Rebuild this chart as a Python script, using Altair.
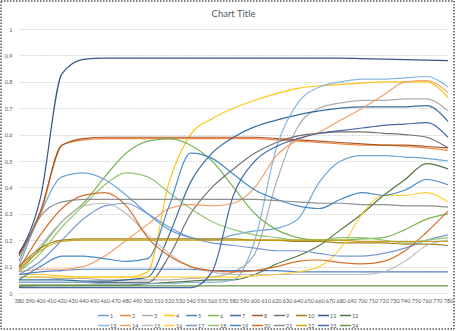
import altair as alt
import pandas as pd

# wavelengths (x) at which values were read
wavelengths = [380, 400, 420, 440, 460, 480, 500, 520, 540, 560, 580,
               600, 620, 640, 660, 680, 700, 720, 740, 760, 780]

# x-axis tick labels
tick_labels = [380, 390, 400, 410, 420, 430, 440, 450, 460, 470, 480, 490,
               500, 510, 520, 530, 540, 550, 560, 570, 580, 590, 600, 610,
               620, 630, 640, 650, 660, 670, 680, 690, 700, 710, 720, 730,
               740, 750, 760, 770, 780]
y_ticks = [0, 0.1, 0.2, 0.3, 0.4, 0.5, 0.6, 0.7, 0.8, 0.9, 1]

series_names = [str(i) for i in range(1, 25)]
colors = ["#5B9BD5", "#ED7D31", "#A5A5A5", "#FFC000", "#4472C4", "#70AD47",
          "#255E91", "#9E480E", "#636363", "#997300", "#264478", "#43682B",
          "#7CAFDD", "#F1975A", "#B7B7B7", "#FFCD33", "#698ED0", "#8CC168",
          "#327DC2", "#D26012", "#848484", "#CC9A00", "#335AA1", "#5A8A39"]

s1 = [0.10, 0.30, 0.44, 0.455, 0.43, 0.37, 0.30, 0.24, 0.21, 0.20, 0.22, 0.235, 0.245, 0.28, 0.42, 0.50, 0.52, 0.52, 0.515, 0.51, 0.50]
s2 = [0.15, 0.30, 0.56, 0.58, 0.585, 0.585, 0.585, 0.585, 0.585, 0.585, 0.585, 0.585, 0.58, 0.575, 0.57, 0.565, 0.56, 0.56, 0.555, 0.55, 0.54]
s3 = [0.06, 0.06, 0.055, 0.055, 0.05, 0.05, 0.05, 0.05, 0.055, 0.06, 0.08, 0.15, 0.42, 0.63, 0.70, 0.72, 0.73, 0.73, 0.735, 0.735, 0.69]
s4 = [0.07, 0.07, 0.065, 0.06, 0.06, 0.06, 0.08, 0.42, 0.60, 0.66, 0.70, 0.73, 0.755, 0.775, 0.785, 0.79, 0.795, 0.80, 0.80, 0.80, 0.74]
s5 = [0.07, 0.08, 0.085, 0.09, 0.09, 0.09, 0.09, 0.09, 0.09, 0.085, 0.085, 0.085, 0.085, 0.08, 0.08, 0.08, 0.08, 0.08, 0.08, 0.08, 0.08]
s6 = [0.08, 0.17, 0.27, 0.34, 0.44, 0.53, 0.575, 0.585, 0.56, 0.50, 0.40, 0.30, 0.24, 0.21, 0.20, 0.20, 0.205, 0.21, 0.24, 0.28, 0.30]
s7 = [0.05, 0.05, 0.05, 0.045, 0.045, 0.05, 0.06, 0.22, 0.42, 0.53, 0.59, 0.63, 0.655, 0.675, 0.69, 0.70, 0.705, 0.705, 0.705, 0.71, 0.65]
s8 = [0.14, 0.31, 0.56, 0.585, 0.59, 0.59, 0.59, 0.59, 0.59, 0.59, 0.59, 0.59, 0.585, 0.58, 0.575, 0.57, 0.565, 0.56, 0.56, 0.555, 0.55]
s9 = [0.04, 0.04, 0.04, 0.04, 0.04, 0.04, 0.04, 0.14, 0.30, 0.40, 0.47, 0.53, 0.57, 0.595, 0.605, 0.61, 0.61, 0.605, 0.60, 0.59, 0.55]
s10 = [0.10, 0.17, 0.20, 0.205, 0.205, 0.205, 0.205, 0.205, 0.205, 0.205, 0.205, 0.20, 0.20, 0.195, 0.195, 0.19, 0.19, 0.19, 0.185, 0.185, 0.18]
s11 = [0.15, 0.36, 0.83, 0.885, 0.89, 0.89, 0.89, 0.89, 0.89, 0.89, 0.89, 0.89, 0.89, 0.89, 0.89, 0.89, 0.888, 0.886, 0.884, 0.882, 0.88]
s12 = [0.03, 0.03, 0.03, 0.03, 0.03, 0.03, 0.035, 0.04, 0.045, 0.05, 0.05, 0.07, 0.11, 0.14, 0.18, 0.24, 0.30, 0.37, 0.43, 0.49, 0.47]
s13 = [0.04, 0.04, 0.04, 0.04, 0.035, 0.035, 0.035, 0.035, 0.04, 0.04, 0.05, 0.20, 0.55, 0.72, 0.78, 0.80, 0.81, 0.81, 0.815, 0.82, 0.78]
s14 = [0.08, 0.09, 0.09, 0.10, 0.14, 0.20, 0.26, 0.32, 0.335, 0.33, 0.34, 0.40, 0.52, 0.58, 0.61, 0.655, 0.70, 0.75, 0.80, 0.805, 0.76]
s15 = [0.08, 0.18, 0.27, 0.33, 0.34, 0.30, 0.22, 0.15, 0.10, 0.08, 0.07, 0.07, 0.07, 0.07, 0.07, 0.07, 0.07, 0.08, 0.12, 0.18, 0.20]
s16 = [0.06, 0.06, 0.06, 0.06, 0.06, 0.06, 0.06, 0.06, 0.06, 0.06, 0.06, 0.065, 0.07, 0.08, 0.10, 0.17, 0.30, 0.37, 0.37, 0.38, 0.345]
s17 = [0.07, 0.12, 0.20, 0.28, 0.33, 0.34, 0.30, 0.25, 0.21, 0.19, 0.18, 0.17, 0.16, 0.16, 0.15, 0.14, 0.14, 0.15, 0.17, 0.20, 0.22]
s18 = [0.08, 0.15, 0.25, 0.33, 0.41, 0.455, 0.44, 0.38, 0.32, 0.27, 0.24, 0.22, 0.21, 0.20, 0.20, 0.21, 0.21, 0.20, 0.19, 0.20, 0.21]
s19 = [0.05, 0.10, 0.14, 0.14, 0.13, 0.12, 0.13, 0.33, 0.53, 0.51, 0.45, 0.39, 0.355, 0.33, 0.32, 0.355, 0.38, 0.37, 0.39, 0.43, 0.41]
s20 = [0.09, 0.22, 0.32, 0.37, 0.38, 0.33, 0.21, 0.14, 0.10, 0.085, 0.08, 0.085, 0.10, 0.12, 0.125, 0.115, 0.11, 0.12, 0.16, 0.23, 0.31]
s21 = [0.12, 0.29, 0.345, 0.355, 0.355, 0.355, 0.355, 0.355, 0.355, 0.355, 0.355, 0.355, 0.35, 0.345, 0.34, 0.34, 0.335, 0.335, 0.33, 0.33, 0.325]
s22 = [0.09, 0.16, 0.195, 0.20, 0.20, 0.20, 0.20, 0.20, 0.20, 0.20, 0.20, 0.20, 0.20, 0.20, 0.20, 0.20, 0.195, 0.195, 0.195, 0.195, 0.195]
s23 = [0.02, 0.02, 0.02, 0.02, 0.02, 0.02, 0.02, 0.02, 0.02, 0.08, 0.37, 0.50, 0.555, 0.585, 0.605, 0.615, 0.625, 0.635, 0.64, 0.645, 0.59]
s24 = [0.025, 0.027, 0.027, 0.027, 0.027, 0.027, 0.027, 0.027, 0.027, 0.027, 0.027, 0.027, 0.027, 0.027, 0.027, 0.027, 0.027, 0.027, 0.027, 0.027, 0.027]

all_series = [s1, s2, s3, s4, s5, s6, s7, s8, s9, s10, s11, s12,
              s13, s14, s15, s16, s17, s18, s19, s20, s21, s22, s23, s24]

rows = []
for name, vals in zip(series_names, all_series):
    for w, v in zip(wavelengths, vals):
        rows.append({"series": name, "wl": w, "v": v})
df = pd.DataFrame(rows)

FONT = "Lato"
TXT = "#595959"

lines = alt.Chart(df).mark_line(strokeWidth=1.2, interpolate="monotone",
                                opacity=0.9).encode(
    x=alt.X("wl:Q",
            scale=alt.Scale(domain=[380, 780], nice=False, zero=False),
            axis=alt.Axis(values=tick_labels, title=None, labelFontSize=5.5,
                          labelColor=TXT, labelFont=FONT, domain=False,
                          ticks=False, grid=False, labelOverlap=False,
                          labelFlush=False, labelPadding=5)),
    y=alt.Y("v:Q",
            scale=alt.Scale(domain=[0, 1], nice=False, zero=True),
            axis=alt.Axis(values=y_ticks, format="~g", title=None,
                          labelFontSize=5.5, labelColor=TXT, labelFont=FONT,
                          grid=True, gridDash=[1, 2], gridColor="#a6a6a6",
                          gridWidth=0.8, domain=False, ticks=False,
                          labelPadding=7)),
    color=alt.Color("series:N", sort=series_names,
                    scale=alt.Scale(domain=series_names, range=colors),
                    legend=alt.Legend(title=None, orient="none", legendX=78,
                                      legendY=280, direction="horizontal",
                                      columns=12, symbolType="stroke",
                                      symbolSize=121, symbolStrokeWidth=1.5,
                                      labelFontSize=5.5, labelColor=TXT,
                                      labelFont=FONT, columnPadding=0,
                                      rowPadding=0, labelOffset=0,
                                      padding=0)),
)

border = alt.Chart(alt.Data(values=[{"a": 1}])).mark_rect(
    fillOpacity=0, stroke="black", strokeDash=[1.5, 1.5], strokeWidth=1
).encode(
    x=alt.value(-18), x2=alt.value(435), y=alt.value(-28), y2=alt.value(300)
)

chart = alt.layer(lines, border).properties(
    width=429, height=264,
    title=alt.TitleParams(text="Chart Title", fontSize=9.5, fontWeight="normal",
                          color=TXT, font=FONT, offset=0, dy=18,
                          anchor="middle"),
    padding={"left": 19, "top": 29, "right": 8, "bottom": 38},
    autosize="none",
).configure_view(strokeWidth=0)

chart.save("out.html", embed_options={"renderer": "svg", "actions": False})
